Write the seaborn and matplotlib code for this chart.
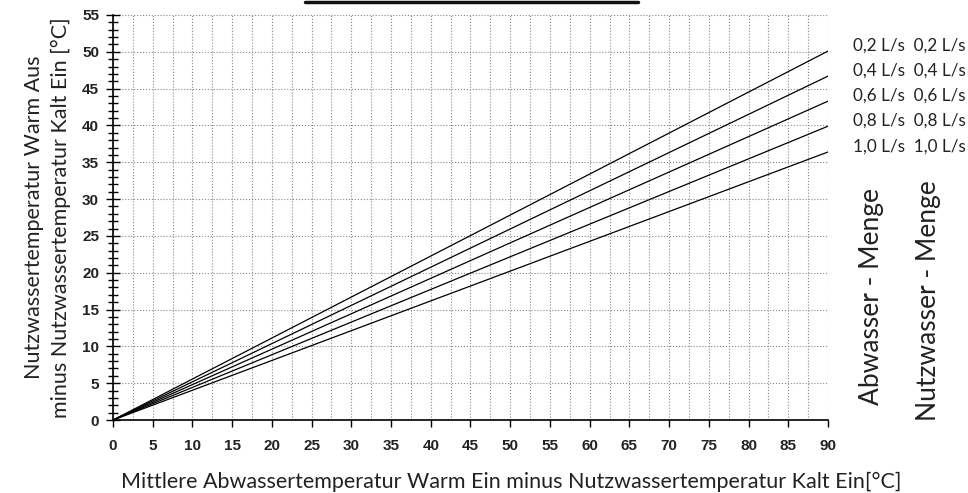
import pandas as pd
import numpy as np
import seaborn as sns
import matplotlib.pyplot as plt
from matplotlib.ticker import MultipleLocator
from matplotlib.lines import Line2D

# data: straight lines from origin, values read at x = 90
x_pts = [0, 90]
flow_labels = ["0,2 L/s", "0,4 L/s", "0,6 L/s", "0,8 L/s", "1,0 L/s"]
end_vals = [50.1, 46.7, 43.3, 39.9, 36.4]

rows = []
for lab, v in zip(flow_labels, end_vals):
    rows.append({"dT_in": x_pts[0], "dT_out": 0.0, "flow": lab})
    rows.append({"dT_in": x_pts[1], "dT_out": v, "flow": lab})
df = pd.DataFrame(rows)

sns.set_style("white")
plt.rcParams["font.family"] = ["Liberation Sans", "DejaVu Sans"]

fig = plt.figure(figsize=(9.68, 4.93), dpi=100)
ax = fig.add_axes([0.1167, 0.148, 0.7387, 0.8216])

sns.lineplot(data=df, x="dT_in", y="dT_out", hue="flow", palette=["black"] * 5,
             legend=False, lw=0.9, ax=ax)

ax.set_xlim(0, 90)
ax.set_ylim(0, 55)
ax.xaxis.set_major_locator(MultipleLocator(5))
ax.xaxis.set_minor_locator(MultipleLocator(2.5))
ax.yaxis.set_major_locator(MultipleLocator(5))
ax.yaxis.set_minor_locator(MultipleLocator(1))

ax.grid(True, axis="x", which="both", ls=":", color="#888888", lw=0.8)
ax.grid(True, axis="y", which="major", ls=":", color="#888888", lw=0.8)
ax.set_axisbelow(True)

for s in ["top", "right"]:
    ax.spines[s].set_visible(False)
for s in ["left", "bottom"]:
    ax.spines[s].set_color("black")
    ax.spines[s].set_linewidth(1.2)

ax.tick_params(which="both", bottom=True, left=True)
ax.tick_params(axis="x", which="major", direction="out", length=5, width=1, color="black",
               labelsize=11, pad=9)
ax.tick_params(axis="x", which="minor", length=0)
ax.tick_params(axis="y", which="major", direction="inout", length=10, width=1, color="black",
               labelsize=11, pad=5)
ax.tick_params(axis="y", which="minor", direction="inout", length=7, width=1, color="black")
for t in ax.get_xticklabels() + ax.get_yticklabels():
    t.set_fontweight("bold")
    t.set_color("#222222")

label_font = ["Lato", "DejaVu Sans"]
ax.set_xlabel("Mittlere Abwassertemperatur Warm Ein minus Nutzwassertemperatur Kalt Ein[°C]",
              family=label_font, fontsize=15.5, color="#222222", va="center")
ax.xaxis.set_label_coords((511 - 113) / 715, -0.153)
ax.set_ylabel("Nutzwassertemperatur Warm Aus\nminus Nutzwassertemperatur Kalt Ein [°C]",
              family=label_font, fontsize=15.5, color="#222222", labelpad=8, linespacing=1.4)

for lab, v in zip(flow_labels, end_vals):
    ax.annotate(lab + "  " + lab, xy=(90, v), xytext=(18, 4), textcoords="offset points",
                va="center", ha="left", family=label_font, fontsize=12.3, color="#222222",
                annotation_clip=False)

fig.text(0.900, 0.398, "Abwasser - Menge", rotation=90, ha="center", va="center",
         family=label_font, fontsize=19, color="#222222")
fig.text(0.959, 0.391, "Nutzwasser - Menge", rotation=90, ha="center", va="center",
         family=label_font, fontsize=19, color="#222222")

# cut-off title underline at the very top
fig.add_artist(Line2D([305 / 968, 638 / 968], [1 - 2 / 493, 1 - 2 / 493],
                      transform=fig.transFigure, color="#111111", lw=2.5))

fig.savefig("out.png", dpi=100)
